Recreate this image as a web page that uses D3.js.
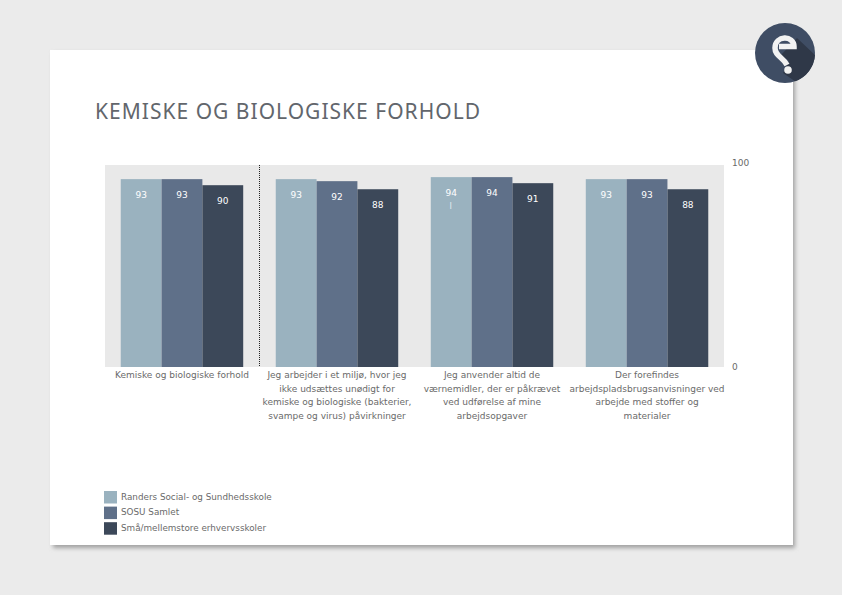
<!DOCTYPE html>
<html>
<head>
<meta charset="utf-8">
<script src="https://cdn.jsdelivr.net/npm/d3@7"></script>
<style>
  html, body { margin: 0; padding: 0; background: #ebebeb; }
  text { font-family: "DejaVu Sans", Verdana, sans-serif; }
</style>
</head>
<body>
<div id="chart"></div>
<script>
var categories = ["Kemiske og biologiske forhold", "arbejder", "anvender", "forefindes"];
var categoryLines = [
    ["Kemiske og biologiske forhold"],
    ["Jeg arbejder i et miljø, hvor jeg", "ikke udsættes unødigt for", "kemiske og biologiske (bakterier,", "svampe og virus) påvirkninger"],
    ["Jeg anvender altid de", "værnemidler, der er påkrævet", "ved udførelse af mine", "arbejdsopgaver"],
    ["Der forefindes", "arbejdspladsbrugsanvisninger ved", "arbejde med stoffer og", "materialer"]
];
var seriesNames = ["Randers Social- og Sundhedsskole", "SOSU Samlet", "Små/mellemstore erhvervsskoler"];
var seriesColors = ["#9ab2bf", "#5f7089", "#3c4859"];
var randers = [93, 93, 94, 93];
var sosu = [93, 92, 94, 93];
var smaa = [90, 88, 91, 88];
var seriesValues = [randers, sosu, smaa];
var axisTicks = [0, 100];

var width = 842;
var height = 595;

var svg = d3.select("#chart")
    .append("svg")
    .attr("width", width)
    .attr("height", height)
    .style("display", "block");

var defs = svg.append("defs");
var blur = defs.append("filter").attr("id", "soft")
    .attr("x", "-5%").attr("y", "-5%").attr("width", "110%").attr("height", "110%");
blur.append("feGaussianBlur").attr("stdDeviation", 2);

/// card ///
svg.append("rect")
    .attr("x", 53).attr("y", 53).attr("width", 742).attr("height", 495)
    .attr("fill", "#a0a0a0")
    .attr("filter", "url(#soft)");
svg.append("rect")
    .attr("x", 50).attr("y", 50).attr("width", 743).attr("height", 495)
    .attr("fill", "#ffffff");

svg.append("text")
    .attr("x", 95).attr("y", 119)
    .style("font-family", "'Noto Sans', sans-serif")
    .attr("font-size", 21)
    .attr("fill", "#62666c")
    .attr("textLength", 385)
    .text("KEMISKE OG BIOLOGISKE FORHOLD");

/// plot ///
var x = d3.scaleBand()
    .domain(categories)
    .range([105, 724])
    .paddingInner(0.21)
    .paddingOuter(0.1015);

var xInner = d3.scaleBand()
    .domain(d3.range(seriesNames.length))
    .range([0, x.bandwidth()]);

var y = d3.scaleLinear()
    .domain([0, 100])
    .range([367, 165]);

svg.append("rect")
    .attr("x", x.range()[0])
    .attr("y", y(100))
    .attr("width", x.range()[1] - x.range()[0])
    .attr("height", y(0) - y(100))
    .attr("fill", "#e9e9e9");

var groups = svg.selectAll(".group")
    .data(categories)
    .join("g")
    .attr("class", "group")
    .attr("transform", d => "translate(" + x(d) + ",0)");

groups.each(function (cat, c) {
    var g = d3.select(this);
    seriesNames.forEach(function (name, s) {
        var v = seriesValues[s][c];
        g.append("rect")
            .attr("x", xInner(s))
            .attr("y", y(v))
            .attr("width", xInner.bandwidth())
            .attr("height", y(0) - y(v))
            .attr("fill", seriesColors[s]);
        g.append("text")
            .attr("x", xInner(s) + xInner.bandwidth() / 2)
            .attr("y", y(v) + 19)
            .attr("text-anchor", "middle")
            .attr("font-size", 9)
            .attr("fill", "#ffffff")
            .text(v);
    });
    g.append("text")
        .attr("text-anchor", "middle")
        .attr("font-size", 9)
        .attr("fill", "#6a6a6a")
        .selectAll("tspan")
        .data(categoryLines[c])
        .join("tspan")
        .attr("x", x.bandwidth() / 2)
        .attr("y", (d, i) => 378 + i * 13.6)
        .text(d => d);
});

// stray mark under the 94 label
svg.append("text")
    .attr("x", x(categories[2]) + xInner.bandwidth() / 2 - 0.5)
    .attr("y", 209)
    .attr("text-anchor", "middle")
    .attr("font-size", 8)
    .attr("fill", "#e4ebef")
    .text("I");

// dotted divider after the first group
svg.append("line")
    .attr("x1", 259.5).attr("x2", 259.5)
    .attr("y1", y(100)).attr("y2", y(0))
    .attr("stroke", "#222222")
    .attr("stroke-width", 1)
    .attr("stroke-dasharray", "1,1");

var axis = d3.axisRight(y).tickValues(axisTicks).tickSize(0).tickPadding(0);
svg.append("g")
    .attr("transform", "translate(732,0)")
    .call(axis)
    .call(g => g.select(".domain").remove())
    .call(g => g.selectAll("text")
        .attr("font-family", "DejaVu Sans")
        .attr("font-size", 9)
        .attr("dy", (d, i) => i ? "0.05em" : "0.32em")
        .attr("fill", "#6a6a6a"));

/// legend ///
var legend = svg.selectAll(".legend")
    .data(seriesNames)
    .join("g")
    .attr("class", "legend")
    .attr("transform", (d, i) => "translate(104," + (491 + i * 15.6) + ")");
legend.append("rect")
    .attr("width", 13).attr("height", 12.5)
    .attr("fill", (d, i) => seriesColors[i]);
legend.append("text")
    .attr("x", 17).attr("y", 8.8)
    .attr("font-size", 8.8)
    .attr("fill", "#6a6a6a")
    .text(d => d);

/// logo ///
var logo = svg.append("g").attr("transform", "translate(785,53)");
logo.append("circle").attr("r", 30).attr("fill", "#3f4d64");
logo.append("path")
    .attr("d", "M12,-15 L30,2 A30,30 0 0 1 10,28.3 L-2,20 L4,8 L-4,2 Z")
    .attr("fill", "#2f3848");
logo.append("path")
    .attr("d", "M-6,-6.5 L9,-6.5 C9,-18 -10,-18 -10,-5 C-10,3 -2,4 2,12")
    .attr("fill", "none")
    .attr("stroke", "#f2f2f2")
    .attr("stroke-width", 5.5);
logo.append("circle").attr("cx", 3).attr("cy", 17).attr("r", 3.8).attr("fill", "#f2f2f2");
</script>
</body>
</html>
